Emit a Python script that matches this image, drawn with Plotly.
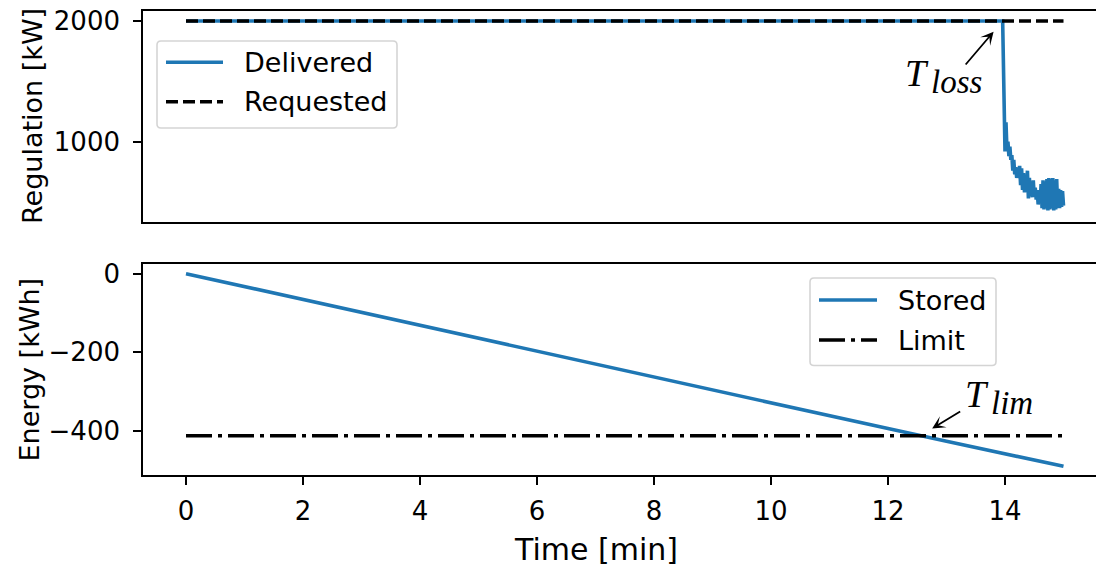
import plotly.graph_objects as go

# ---------------------------------------------------------------- data
# Regulation request (kW) over time (min)
requested_t = [0, 15]
requested_kw = [2000, 2000]

# Delivered regulation: flat until the loss, then one sample per second
delivered_head_t = [0, 13.96]
delivered_head_kw = [2000, 2000]
delivered_tail_kw = [
    920, 1160, 930, 1000, 880, 960, 850, 890, 760, 850,
    730, 790, 700, 770, 710, 800, 640, 780, 600, 740,
    580, 720, 590, 760, 530, 700, 560, 640, 540, 680,
    550, 620, 520, 600, 480, 590, 490, 650, 450, 680,
    440, 670, 450, 690, 430, 700, 440, 690, 450, 700,
    430, 680, 440, 690, 450, 610, 450, 600, 460, 590,
    470,
]
delivered_tail_start = 14.0  # min
delivered_t = delivered_head_t + [delivered_tail_start + s / 60 for s in range(len(delivered_tail_kw))]
delivered_kw = delivered_head_kw + delivered_tail_kw

# Stored energy (kWh) and its lower limit
stored_t = list(range(16))
stored_kwh = [0, -33, -66, -98, -131, -164, -197, -230, -262, -295,
              -328, -361, -394, -426, -459, -490]
limit_t = [0, 15]
limit_kwh = [-412, -412]

# Event times
t_loss, p_loss = 13.96, 2000
t_lim, e_lim = 12.55, -412

time_ticks = [0, 2, 4, 6, 8, 10, 12, 14]
reg_ticks = [1000, 2000]
energy_ticks = [0, -200, -400]
energy_tick_text = ["0", "\u2212200", "\u2212400"]

# ---------------------------------------------------------------- style
W, H = 1096, 568
ML, MR, MT, MB = 143, 0, 11, 93
PW, PH = W - ML - MR, H - MT - MB
BLUE = "#1f77b4"
SANS = "DejaVu Sans"
SERIF = "Liberation Serif"
LW = 3.6
DASH = "12px,5px"
DASHDOT = "26px,6px,4px,6px"


def px(x):
    return (x - ML) / PW


def py(y):
    return (H - MB - y) / PH


top_dom = [py(222), 1]
bot_dom = [0, py(264)]
x_range = [(ML - 186) / 58.5, (W - 186) / 58.5]

fig = go.Figure()
fig.add_trace(go.Scatter(x=delivered_t, y=delivered_kw, mode="lines",
                         line=dict(color=BLUE, width=LW), xaxis="x", yaxis="y",
                         showlegend=False))
fig.add_trace(go.Scatter(x=requested_t, y=requested_kw, mode="lines",
                         line=dict(color="black", width=LW, dash=DASH),
                         xaxis="x", yaxis="y", showlegend=False))
fig.add_trace(go.Scatter(x=stored_t, y=stored_kwh, mode="lines",
                         line=dict(color=BLUE, width=LW), xaxis="x2", yaxis="y2",
                         showlegend=False))
fig.add_trace(go.Scatter(x=limit_t, y=limit_kwh, mode="lines",
                         line=dict(color="black", width=LW, dash=DASHDOT),
                         xaxis="x2", yaxis="y2", showlegend=False))

axis_common = dict(showgrid=False, zeroline=False, showline=True, linecolor="black",
                   linewidth=1.6, tickcolor="black", tickwidth=1.6, ticklen=8,
                   tickfont=dict(family=SANS, size=26, color="black"), automargin=False)

shapes = []
annotations = []


def rounded_box(x0, y0, x1, y1, r=4):
    pts = (f"M {px(x0 + r)},{py(y0)} L {px(x1 - r)},{py(y0)} "
           f"Q {px(x1)},{py(y0)} {px(x1)},{py(y0 + r)} "
           f"L {px(x1)},{py(y1 - r)} Q {px(x1)},{py(y1)} {px(x1 - r)},{py(y1)} "
           f"L {px(x0 + r)},{py(y1)} Q {px(x0)},{py(y1)} {px(x0)},{py(y1 - r)} "
           f"L {px(x0)},{py(y0 + r)} Q {px(x0)},{py(y0)} {px(x0 + r)},{py(y0)} Z")
    return dict(type="path", xref="paper", yref="paper", path=pts,
                fillcolor="rgba(255,255,255,0.8)",
                line=dict(color="rgba(204,204,204,0.85)", width=1.6), layer="above")


def legend_entry(x0, x1, y, text, color, dash):
    shapes.append(dict(type="line", xref="paper", yref="paper",
                       x0=px(x0), x1=px(x1), y0=py(y), y1=py(y),
                       line=dict(color=color, width=LW, dash=dash), layer="above"))
    annotations.append(dict(xref="paper", yref="paper", x=px(x1 + 19), y=py(y),
                            text=text, showarrow=False, xanchor="left", yanchor="middle",
                            font=dict(family=SANS, size=27, color="black")))


# legend for the regulation panel
shapes.append(rounded_box(157, 41, 397, 128))
legend_entry(166, 223, 62.3, "Delivered", BLUE, "solid")
legend_entry(166, 223, 101.7, "Requested", "black", DASH)

# legend for the energy panel
shapes.append(rounded_box(810, 278, 996, 365.5))
legend_entry(819, 877, 300, "Stored", BLUE, "solid")
legend_entry(819, 877, 340, "Limit", "black", DASHDOT)

# axis titles
annotations.append(dict(xref="paper", yref="paper", x=px(32), y=py(116),
                        text="Regulation [kW]", textangle=-90, showarrow=False,
                        xanchor="center", yanchor="middle",
                        font=dict(family=SANS, size=27, color="black")))
annotations.append(dict(xref="paper", yref="paper", x=px(29), y=py(369.5),
                        text="Energy [kWh]", textangle=-90, showarrow=False,
                        xanchor="center", yanchor="middle",
                        font=dict(family=SANS, size=27, color="black")))
annotations.append(dict(xref="paper", yref="paper", x=px(596), y=py(549),
                        text="Time [min]", showarrow=False,
                        xanchor="center", yanchor="middle",
                        font=dict(family=SANS, size=30, color="black")))

# event markers
annotations.append(dict(x=t_loss, y=p_loss, xref="x", yref="y", ax=-40, ay=47,
                        text=" ", showarrow=True, arrowhead=3, arrowsize=1.2,
                        arrowwidth=1.8, arrowcolor="black", standoff=14))
annotations.append(dict(xref="paper", yref="paper", x=px(903), y=py(73),
                        text="<i>T</i>", showarrow=False, xanchor="left", yanchor="middle",
                        font=dict(family=SERIF, size=38, color="black")))
annotations.append(dict(xref="paper", yref="paper", x=px(929), y=py(82),
                        text="<i>loss</i>", showarrow=False, xanchor="left", yanchor="middle",
                        font=dict(family=SERIF, size=33, color="black")))

annotations.append(dict(x=t_lim, y=e_lim, xref="x2", yref="y2", ax=43, ay=-26,
                        text=" ", showarrow=True, arrowhead=3, arrowsize=1.2,
                        arrowwidth=1.8, arrowcolor="black", standoff=14))
annotations.append(dict(xref="paper", yref="paper", x=px(963), y=py(394),
                        text="<i>T</i>", showarrow=False, xanchor="left", yanchor="middle",
                        font=dict(family=SERIF, size=38, color="black")))
annotations.append(dict(xref="paper", yref="paper", x=px(989), y=py(402.5),
                        text="<i>lim</i>", showarrow=False, xanchor="left", yanchor="middle",
                        font=dict(family=SERIF, size=33, color="black")))

fig.update_layout(
    template="none",
    width=W, height=H,
    margin=dict(l=ML, r=MR, t=MT, b=MB, pad=0),
    paper_bgcolor="white", plot_bgcolor="white",
    showlegend=False,
    xaxis=dict(axis_common, domain=[0, 1], anchor="y", range=x_range,
               showticklabels=False, ticks="", mirror=True),
    xaxis2=dict(axis_common, domain=[0, 1], anchor="y2", range=x_range, matches="x",
                tickvals=time_ticks, ticks="outside", mirror=True, ticklabelstandoff=4),
    yaxis=dict(axis_common, domain=top_dom, anchor="x", range=[335, 2083],
               tickvals=reg_ticks, ticks="outside", mirror=False, ticklabelstandoff=8),
    yaxis2=dict(axis_common, domain=bot_dom, anchor="x2", range=[-512, 24.7],
                tickvals=energy_ticks, ticktext=energy_tick_text, ticks="outside",
                mirror=False, ticklabelstandoff=8),
    shapes=shapes,
    annotations=annotations,
)

fig.write_html("out.html")
